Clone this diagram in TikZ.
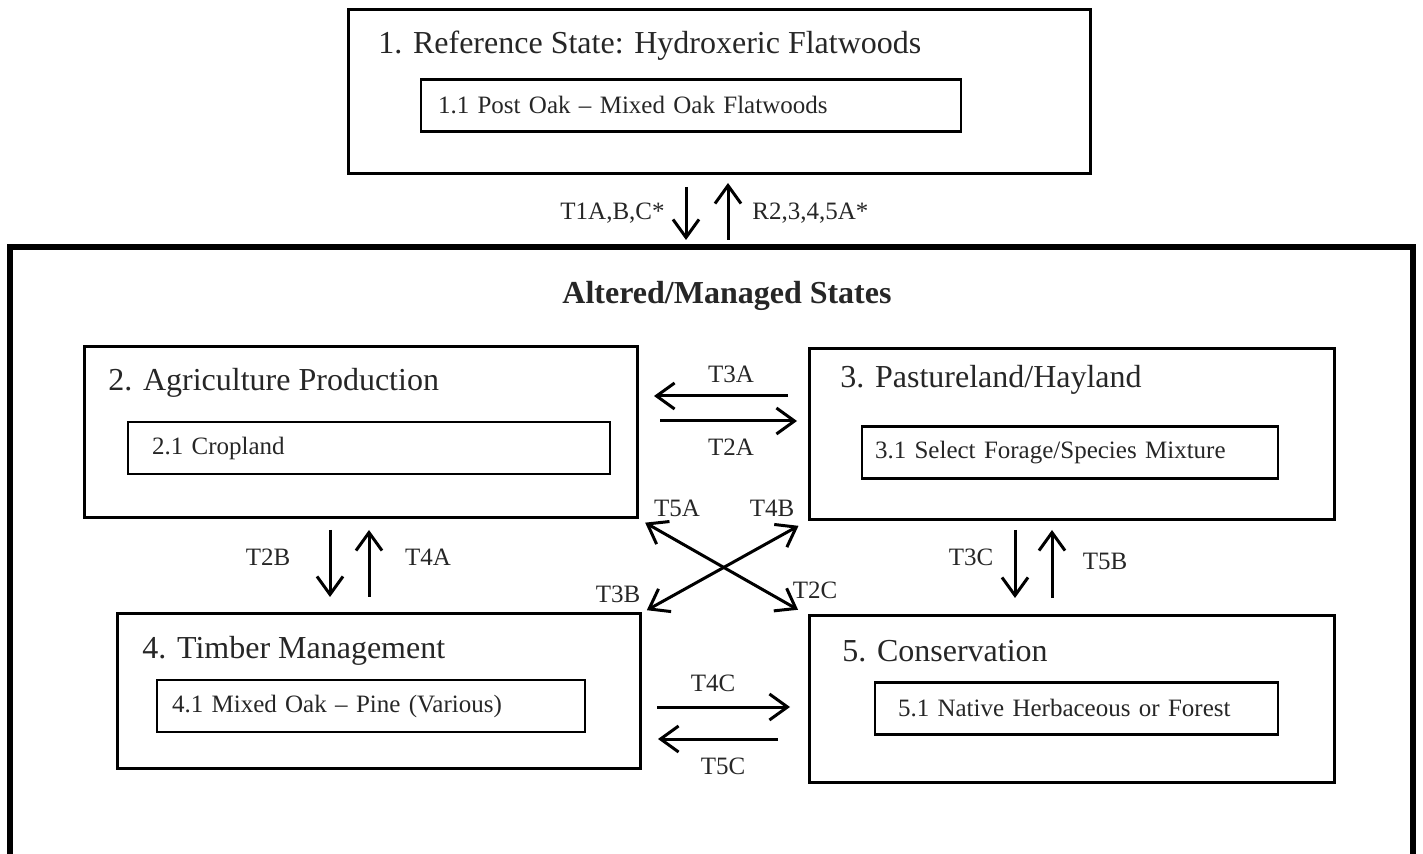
\documentclass[tikz,border=0pt]{standalone}
\usepackage{fontspec}
\setmainfont{Liberation Serif}
\usetikzlibrary{arrows.meta, calc, positioning}
\tikzset{
  box/.style={draw, line width=1.5pt, inner sep=0pt, outer sep=0pt},
  bigbox/.style={draw, line width=3pt, inner sep=0pt, outer sep=0pt},
  subbox/.style={draw, line width=1.2pt, outer sep=0pt, inner ysep=0pt, minimum height=26pt, align=left, anchor=west, font=\fontsize{12.5}{15}\selectfont},
  ttl/.style={inner sep=0pt, anchor=west, font=\fontsize{16}{19}\selectfont},
  lbl/.style={inner sep=0pt, font=\fontsize{12.5}{15}\selectfont},
  pto/.style={-{Straight Barb[length=9pt,width=13pt]}, line width=1.5pt},
  dpto/.style={{Straight Barb[length=9pt,width=13pt]}-{Straight Barb[length=9pt,width=13pt]}, line width=1.5pt}
}

\begin{document}
\begin{tikzpicture}[x=0.5pt, y=-0.5pt, text=black!85]
    \useasboundingbox (0,0) rectangle (1423,854);

    \node[box, minimum width=371pt, minimum height=82pt] (ref) at (719,92) {};
    \node[ttl] (ref_title) at (378,46) {1. Reference State: Hydroxeric Flatwoods};
    \node[subbox, text width=253pt, inner xsep=8.5pt] (ref_sub) at (421,105.5) {1.1 Post Oak -- Mixed Oak Flatwoods};

    \node[bigbox, minimum width=701.5pt, minimum height=305pt] (alt) at (711.5,552) {};
    \node[lbl, font=\fontsize{16}{19}\selectfont\bfseries] (alt_title) at (727,296) {Altered/Managed States};

    \node[box, minimum width=276.5pt, minimum height=85.5pt] (agri) at (360.5,432.5) {};
    \node[ttl] (agri_title) at (108,383) {2. Agriculture Production};
    \node[subbox, text width=217pt, inner xsep=12pt] (agri_sub) at (128,448) {2.1 Cropland};

    \node[box, minimum width=262.5pt, minimum height=85.5pt] (past) at (1071.5,434.5) {};
    \node[ttl] (past_title) at (840,380) {3. Pastureland/Hayland};
    \node[subbox, text width=195pt, inner xsep=6.5pt] (past_sub) at (862,452.5) {3.1 Select Forage/Species Mixture};

    \node[box, minimum width=261.5pt, minimum height=77pt] (timb) at (378.5,691) {};
    \node[ttl] (timb_title) at (142,651) {4. Timber Management};
    \node[subbox, text width=199pt, inner xsep=7.5pt] (timb_sub) at (157,706) {4.1 Mixed Oak -- Pine (Various)};

    \node[box, minimum width=262.5pt, minimum height=83pt] (cons) at (1071.5,699) {};
    \node[ttl] (cons_title) at (842,651) {5. Conservation};
    \node[subbox, text width=178.5pt, inner xsep=11.5pt] (cons_sub) at (875,708.5) {5.1 Native Herbaceous or Forest};

    \draw[pto, shorten <=6.5pt, shorten >=3.5pt] ([xshift=-16.5pt]ref.south) -- ([xshift=-16.5pt]ref.south |- alt.north);
    \draw[pto, shorten <=3.5pt, shorten >=4.5pt] ([xshift=4.5pt]ref.south |- alt.north) -- ([xshift=4.5pt]ref.south);
    \node[lbl, anchor=east] (t1abc) at (665,213) {T1A,B,C*};
    \node[lbl, anchor=west] (r2345a) at (752,213) {R2,3,4,5A*};

    \draw[pto, shorten <=10.5pt, shorten >=8.5pt] ([yshift=18.25pt]agri.east -| past.west) -- ([yshift=18.25pt]agri.east);
    \draw[pto, shorten <=11.5pt, shorten >=6pt] ([yshift=5.75pt]agri.east) -- ([yshift=5.75pt]agri.east -| past.west);
    \node[lbl] (t3a) at (731,374) {T3A};
    \node[lbl] (t2a) at (731,447) {T2A};

    \draw[dpto, shorten <=4.7pt, shorten >=6.3pt] (agri.south east) -- (cons.north west);
    \draw[dpto, shorten <=6pt, shorten >=3.9pt] (past.south west) -- (timb.north east);
    \node[lbl] (t5a) at (677,508) {T5A};
    \node[lbl] (t4b) at (772,508) {T4B};
    \node[lbl] (t3b) at (618,594) {T3B};
    \node[lbl] (t2c) at (815,590) {T2C};

    \draw[pto, shorten <=6pt, shorten >=8.5pt] ([xshift=-15.25pt]agri.south) -- ([xshift=-15.25pt]agri.south |- timb.north);
    \draw[pto, shorten <=8.5pt, shorten >=6pt] ([xshift=4.25pt]agri.south |- timb.north) -- ([xshift=4.25pt]agri.south);
    \node[lbl] (t2b) at (268,557) {T2B};
    \node[lbl] (t4a) at (428,557) {T4A};

    \draw[pto, shorten <=5pt, shorten >=9pt] ([xshift=-28.25pt]past.south) -- ([xshift=-28.25pt]past.south |- cons.north);
    \draw[pto, shorten <=9pt, shorten >=5pt] ([xshift=-9.75pt]past.south |- cons.north) -- ([xshift=-9.75pt]past.south);
    \node[lbl] (t3c) at (971,557) {T3C};
    \node[lbl] (t5b) at (1105,561) {T5B};

    \draw[pto, shorten <=8.5pt, shorten >=9.5pt] ([yshift=-8pt]timb.east) -- ([yshift=-8pt]timb.east -| cons.west);
    \draw[pto, shorten <=15.5pt, shorten >=9pt] ([yshift=-24pt]timb.east -| cons.west) -- ([yshift=-24pt]timb.east);
    \node[lbl] (t4c) at (713,683) {T4C};
    \node[lbl] (t5c) at (723,766) {T5C};
  \end{tikzpicture}
\end{document}
